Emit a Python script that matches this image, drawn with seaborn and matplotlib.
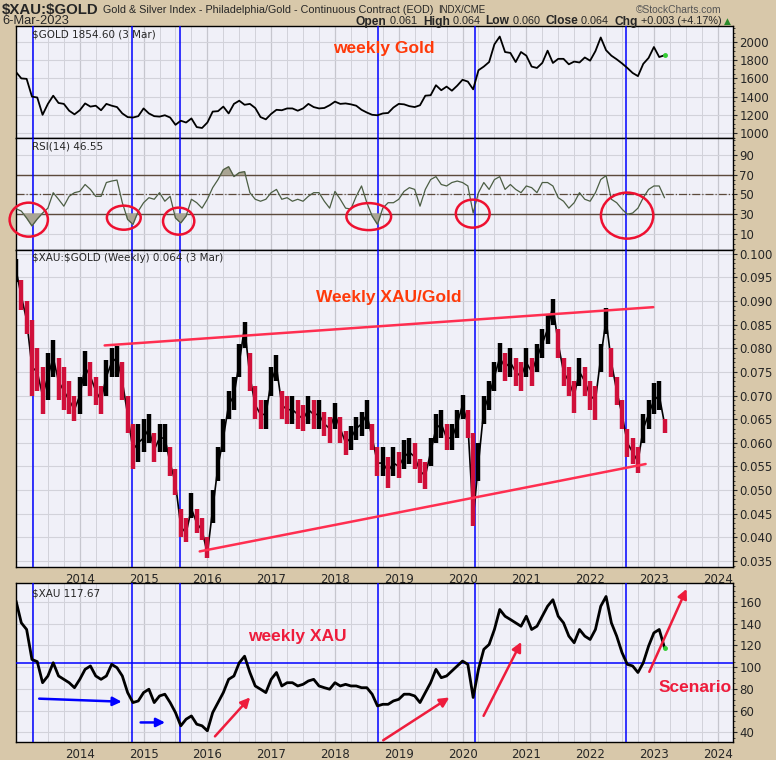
import numpy as np
import pandas as pd
import matplotlib
matplotlib.use("Agg")
import matplotlib.pyplot as plt
import seaborn as sns
from matplotlib.patches import Ellipse
from matplotlib.ticker import MultipleLocator, FixedLocator, FormatStrFormatter

sns.set_style("white")
plt.rcParams['font.family'] = ['DejaVu Sans']

# ---------------- data (monthly readings, Jan 2013 .. Mar 2023) ----------------
months = pd.date_range("2013-01-01", "2023-03-01", freq="MS")

gold = [1670, 1600, 1595, 1400, 1390, 1200, 1320, 1410, 1330, 1320, 1245, 1205,
        1250, 1325, 1290, 1300, 1250, 1320, 1300, 1285, 1215, 1175, 1170, 1185,
        1270, 1215, 1185, 1180, 1195, 1170, 1090, 1135, 1115, 1160, 1065, 1055,
        1115, 1235, 1240, 1290, 1215, 1320, 1355, 1310, 1320, 1275, 1175, 1150,
        1210, 1255, 1250, 1270, 1270, 1245, 1270, 1320, 1285, 1270, 1275, 1305,
        1345, 1320, 1325, 1315, 1300, 1255, 1225, 1200, 1195, 1215, 1220, 1280,
        1320, 1315, 1295, 1285, 1305, 1410, 1415, 1525, 1470, 1510, 1465, 1520,
        1585, 1565, 1480, 1690, 1730, 1780, 1975, 2060, 1890, 1880, 1780, 1890,
        1850, 1730, 1715, 1770, 1905, 1770, 1815, 1815, 1755, 1785, 1775, 1830,
        1795, 1900, 2050, 1910, 1850, 1810, 1765, 1715, 1660, 1625, 1760, 1825,
        1945, 1835, 1854.6]

rsi = [35.4, 33.0, 26.0, 18.0, 25.0, 31.0, 36.0, 51.7, 45.0, 38.0, 48.0, 51.7,
       53.0, 60.0, 55.0, 48.0, 48.0, 62.0, 63.5, 64.5, 41.5, 24.6, 19.5, 33.0,
       41.5, 46.6, 45.0, 51.7, 43.0, 48.0, 26.0, 21.0, 28.0, 45.0, 41.5, 36.0,
       45.0, 56.8, 65.0, 75.0, 78.0, 68.0, 72.0, 73.0, 51.7, 45.0, 43.0, 45.0,
       51.7, 55.0, 45.0, 46.6, 43.0, 45.0, 43.0, 48.0, 51.7, 51.7, 43.0, 36.0,
       53.0, 45.0, 36.0, 35.0, 48.0, 58.5, 41.5, 28.0, 19.5, 36.0, 41.5, 41.5,
       45.0, 53.0, 56.8, 55.0, 38.0, 55.0, 65.0, 68.0, 60.0, 58.5, 62.0, 63.5,
       62.0, 58.5, 31.0, 51.7, 62.0, 55.0, 65.0, 68.0, 55.0, 60.0, 55.0, 51.7,
       58.5, 56.8, 51.7, 62.0, 62.0, 58.5, 46.6, 43.0, 36.0, 41.5, 51.7, 45.0,
       43.0, 51.7, 65.0, 69.0, 45.0, 41.5, 35.0, 29.7, 31.0, 36.0, 46.6, 55.0,
       58.5, 58.5, 46.55]

ratio = [0.0966, 0.0910, 0.0860, 0.0760, 0.0750, 0.0700, 0.0740, 0.0780, 0.0730, 0.0710, 0.0690, 0.0670,
         0.0700, 0.0760, 0.0740, 0.0710, 0.0690, 0.0740, 0.0770, 0.0780, 0.0730, 0.0660, 0.0585, 0.0600,
         0.0610, 0.0630, 0.0585, 0.0610, 0.0610, 0.0557, 0.0514, 0.0422, 0.0409, 0.0460, 0.0430, 0.0415,
         0.0365, 0.0460, 0.0550, 0.0610, 0.0680, 0.0700, 0.0770, 0.0845, 0.0740, 0.0680, 0.0660, 0.0660,
         0.0730, 0.0760, 0.0680, 0.0670, 0.0670, 0.0660, 0.0650, 0.0670, 0.0660, 0.0660, 0.0640, 0.0630,
         0.0660, 0.0630, 0.0600, 0.0610, 0.0630, 0.0640, 0.0660, 0.0610, 0.0557, 0.0557, 0.0540, 0.0557,
         0.0550, 0.0570, 0.0580, 0.0570, 0.0540, 0.0530, 0.0580, 0.0630, 0.0640, 0.0610, 0.0610, 0.0640,
         0.0680, 0.0640, 0.0440, 0.0557, 0.0670, 0.0700, 0.0740, 0.0780, 0.0760, 0.0770, 0.0750, 0.0740,
         0.0770, 0.0750, 0.0780, 0.0810, 0.0840, 0.0890, 0.0810, 0.0750, 0.0730, 0.0700, 0.0750, 0.0730,
         0.0700, 0.0690, 0.0780, 0.0860, 0.0770, 0.0710, 0.0660, 0.0600, 0.0580, 0.0560, 0.0630, 0.0660,
         0.0690, 0.0700, 0.0640]

ratio_lo = [0.0940, 0.0880, 0.0830, 0.0700, 0.0710, 0.0660, 0.0690, 0.0740, 0.0690, 0.0670, 0.0660, 0.0645,
            0.0660, 0.0720, 0.0700, 0.0680, 0.0660, 0.0700, 0.0740, 0.0740, 0.0690, 0.0620, 0.0545, 0.0560,
            0.0580, 0.0600, 0.0560, 0.0580, 0.0580, 0.0530, 0.0490, 0.0400, 0.0390, 0.0440, 0.0410, 0.0395,
            0.0355, 0.0430, 0.0520, 0.0580, 0.0650, 0.0670, 0.0740, 0.0800, 0.0710, 0.0650, 0.0630, 0.0630,
            0.0700, 0.0730, 0.0650, 0.0640, 0.0640, 0.0630, 0.0625, 0.0640, 0.0630, 0.0630, 0.0615, 0.0600,
            0.0630, 0.0600, 0.0575, 0.0585, 0.0605, 0.0615, 0.0630, 0.0585, 0.0530, 0.0530, 0.0505, 0.0530,
            0.0525, 0.0545, 0.0555, 0.0545, 0.0515, 0.0502, 0.0550, 0.0600, 0.0610, 0.0585, 0.0585, 0.0610,
            0.0650, 0.0610, 0.0423, 0.0520, 0.0640, 0.0670, 0.0710, 0.0750, 0.0730, 0.0740, 0.0720, 0.0710,
            0.0740, 0.0720, 0.0750, 0.0780, 0.0810, 0.0850, 0.0780, 0.0720, 0.0700, 0.0662, 0.0720, 0.0700,
            0.0670, 0.0648, 0.0750, 0.0830, 0.0740, 0.0680, 0.0630, 0.0570, 0.0555, 0.0537, 0.0600, 0.0630,
            0.0660, 0.0670, 0.0620]

ratio_hi = [0.0990, 0.0945, 0.0900, 0.0860, 0.0800, 0.0760, 0.0790, 0.0818, 0.0780, 0.0760, 0.0730, 0.0700,
            0.0740, 0.0795, 0.0770, 0.0740, 0.0720, 0.0775, 0.0800, 0.0805, 0.0770, 0.0700, 0.0640, 0.0640,
            0.0650, 0.0660, 0.0620, 0.0640, 0.0640, 0.0590, 0.0545, 0.0460, 0.0440, 0.0493, 0.0460, 0.0440,
            0.0400, 0.0500, 0.0590, 0.0650, 0.0710, 0.0740, 0.0810, 0.0855, 0.0790, 0.0720, 0.0690, 0.0690,
            0.0760, 0.0786, 0.0710, 0.0700, 0.0700, 0.0690, 0.0680, 0.0700, 0.0690, 0.0690, 0.0665, 0.0655,
            0.0685, 0.0655, 0.0625, 0.0635, 0.0655, 0.0665, 0.0690, 0.0640, 0.0590, 0.0590, 0.0570, 0.0590,
            0.0580, 0.0606, 0.0610, 0.0600, 0.0565, 0.0560, 0.0610, 0.0660, 0.0670, 0.0640, 0.0640, 0.0670,
            0.0702, 0.0670, 0.0620, 0.0600, 0.0700, 0.0730, 0.0770, 0.0811, 0.0790, 0.0800, 0.0780, 0.0770,
            0.0800, 0.0780, 0.0810, 0.0840, 0.0870, 0.0905, 0.0840, 0.0780, 0.0760, 0.0730, 0.0780, 0.0760,
            0.0730, 0.0720, 0.0810, 0.0885, 0.0800, 0.0740, 0.0690, 0.0630, 0.0610, 0.0590, 0.0660, 0.0690,
            0.0726, 0.0730, 0.0650]

xau = [161.0, 140.7, 134.6, 107.0, 105.0, 85.6, 91.8, 104.0, 91.8, 88.7, 85.6, 81.0,
       88.7, 97.9, 101.0, 91.8, 88.7, 91.8, 102.5, 99.4, 91.8, 76.5, 67.3, 68.8,
       76.5, 79.6, 67.3, 73.4, 75.0, 67.3, 58.1, 45.9, 52.0, 55.0, 47.4, 45.9,
       41.3, 58.1, 67.3, 76.5, 88.7, 91.8, 104.0, 110.0, 95.0, 82.6, 79.6, 76.5,
       88.7, 95.0, 82.6, 85.6, 85.6, 82.6, 84.1, 87.2, 88.7, 82.6, 81.0, 79.6,
       85.6, 82.6, 84.1, 82.6, 82.6, 81.0, 81.0, 75.0, 64.2, 65.7, 65.7, 68.8,
       70.3, 75.0, 75.0, 73.4, 67.3, 76.5, 85.6, 97.9, 90.2, 91.8, 96.4, 101.0,
       105.5, 102.5, 72.0, 97.9, 116.3, 120.8, 134.6, 153.0, 146.8, 143.8, 140.7, 137.6,
       146.8, 134.6, 137.6, 146.8, 156.0, 162.0, 146.8, 140.7, 128.5, 122.4, 134.6, 128.5,
       125.4, 134.6, 156.0, 165.0, 140.7, 128.5, 113.3, 102.5, 101.0, 95.0, 104.0, 119.3,
       131.5, 134.6, 117.67]

year_ticks = list(range(2014, 2025))
event_lines = [2013.26, 2014.82, 2015.57, 2018.67, 2020.19, 2022.56]
gold_ticks = [1000, 1200, 1400, 1600, 1800, 2000]
rsi_ticks = [10, 30, 50, 70, 90]
ratio_ticks = [0.035, 0.040, 0.045, 0.050, 0.055, 0.060, 0.065, 0.070,
               0.075, 0.080, 0.085, 0.090, 0.095, 0.100]
xau_ticks = [40, 60, 80, 100, 120, 140, 160]

t = np.asarray(months.year + (months.month - 1) / 12.0, dtype=float)

# ---------------- styling ----------------
BG = '#d8c8aa'
PBG = '#f0f0f8'
GRID = '#d2d2da'
BLUE = '#0000ff'
RED_T = '#ff2e50'
ORANGE = '#ff3a0a'
CRIMSON = '#ee1c3c'
W, H = 776, 760

fig = plt.figure(figsize=(W / 100, H / 100), dpi=100, facecolor=BG)


def add_ax(top, bottom):
    return fig.add_axes([16 / W, 1 - bottom / H, (733 - 16) / W, (bottom - top) / H])


ax_g = add_ax(26, 138)
ax_r = add_ax(138, 250)
ax_x = add_ax(250, 567)
ax_a = add_ax(583, 742)

XMIN, XMAX = 2013.0, 2024.24
for ax in (ax_g, ax_r, ax_x, ax_a):
    ax.set_facecolor(PBG)
    ax.set_xlim(XMIN, XMAX)
    ax.xaxis.set_major_locator(FixedLocator(year_ticks))
    ax.xaxis.set_minor_locator(MultipleLocator(0.25))
    ax.grid(which='major', axis='x', color='#c6c6ce', lw=0.9)
    ax.grid(which='minor', axis='x', color=GRID, lw=0.7)
    ax.grid(which='major', axis='y', color=GRID, lw=0.8)
    ax.yaxis.tick_right()
    ax.tick_params(axis='y', which='major', direction='out', length=3, width=0.8,
                   labelsize=8.5, pad=1.5, right=True, left=False)
    ax.tick_params(axis='y', which='minor', direction='out', length=1.5, width=0.6,
                   right=True, left=False)
    ax.tick_params(axis='x', which='both', length=0)
    for s in ax.spines.values():
        s.set_color('black')
        s.set_linewidth(1.0)
    for xv in event_lines:
        ax.axvline(xv, color=BLUE, lw=1.1, zorder=3)
    ax.set_axisbelow(True)

for ax in (ax_g, ax_r):
    ax.tick_params(axis='x', labelbottom=False)
for ax in (ax_x, ax_a):
    ax.set_xticklabels([str(y) for y in year_ticks])
    ax.tick_params(axis='x', which='major', length=3, direction='out', labelsize=8.5, pad=1)

BOLDFAM = ['Liberation Sans', 'DejaVu Sans']

# ---- Gold ----
sns.lineplot(x=t, y=gold, ax=ax_g, color='black', lw=1.3, zorder=4)
ax_g.set_ylim(945, 2176)
ax_g.yaxis.set_major_locator(FixedLocator(gold_ticks))
ax_g.yaxis.set_minor_locator(MultipleLocator(50))
ax_g.plot([t[-1]], [gold[-1]], 'o', color='#33cc33', ms=2.5, zorder=5)
ax_g.text(0.022, 0.965, '$GOLD 1854.60 (3 Mar)', transform=ax_g.transAxes, va='top',
          ha='left', fontsize=7.5, parse_math=False)
fig.text(384 / W, 1 - 49 / H, 'weekly Gold', color=ORANGE, fontsize=12.5,
         fontweight='bold', ha='center', va='center', family=BOLDFAM)

# ---- RSI ----
rsi_arr = np.asarray(rsi)
sns.lineplot(x=t, y=rsi, ax=ax_r, color='#4c5e44', lw=0.9, zorder=4)
ax_r.fill_between(t, 70, rsi_arr, where=rsi_arr > 70, interpolate=True,
                  color='#aaa594', zorder=3)
ax_r.fill_between(t, rsi_arr, 30, where=rsi_arr < 30, interpolate=True,
                  color='#aaa594', zorder=3)
ax_r.axhline(70, color='#5c4a3c', lw=1.0, zorder=2)
ax_r.axhline(30, color='#5c4a3c', lw=1.0, zorder=2)
ax_r.axhline(50, color='#5c4a3c', lw=0.9, ls='-.', zorder=2)
ax_r.set_ylim(-6.5, 107.2)
ax_r.yaxis.set_major_locator(FixedLocator(rsi_ticks))
ax_r.yaxis.set_minor_locator(MultipleLocator(5))
ax_r.text(0.022, 0.965, 'RSI(14) 46.55', transform=ax_r.transAxes, va='top',
          ha='left', fontsize=7.5, parse_math=False)
ellipses = [(2013.2, 24.3, 0.60, 34.5), (2014.69, 26.3, 0.53, 24.4),
            (2015.55, 22.8, 0.49, 27.4), (2018.53, 27.4, 0.70, 27.4),
            (2020.16, 30.4, 0.53, 28.4), (2022.58, 28.4, 0.82, 46.7)]
for cx, cy, ew, eh in ellipses:
    ax_r.add_patch(Ellipse((cx, cy), ew, eh, fill=False, ec='#ee1030', lw=1.8,
                           zorder=6, clip_on=False))

# ---- XAU:GOLD ratio (monthly high-low bars, red when the close fell) ----
r = np.asarray(ratio)
down = np.r_[False, r[1:] < r[:-1]]
bar_colors = np.where(down, '#d0103a', 'black')
sns.lineplot(x=t, y=ratio, ax=ax_x, color='black', lw=1.2, zorder=4)
ax_x.vlines(t, ratio_lo, ratio_hi, colors=bar_colors, lw=3.2, zorder=5)
ax_x.set_ylim(0.0337, 0.1008)
ax_x.yaxis.set_major_locator(FixedLocator(ratio_ticks))
ax_x.yaxis.set_major_formatter(FormatStrFormatter('%.3f'))
ax_x.yaxis.set_minor_locator(MultipleLocator(0.001))
ax_x.plot([2014.39, 2022.99], [0.0806, 0.0887], color=RED_T, lw=1.8, zorder=6)
ax_x.plot([2015.88, 2022.87], [0.0370, 0.0555], color=RED_T, lw=1.8, zorder=6)
ax_x.text(0.022, 0.992, '$XAU:$GOLD (Weekly) 0.064 (3 Mar)', transform=ax_x.transAxes,
          va='top', ha='left', fontsize=7.5, parse_math=False)
fig.text(389 / W, 1 - 297 / H, 'Weekly XAU/Gold', color=ORANGE, fontsize=12.5,
         fontweight='bold', ha='center', va='center', family=BOLDFAM)

# ---- XAU ----
sns.lineplot(x=t, y=xau, ax=ax_a, color='black', lw=2.0, zorder=4)
ax_a.plot([t[-1]], [xau[-1]], 'o', color='#33cc33', ms=2.5, zorder=5)
ax_a.set_ylim(31.0, 177.4)
ax_a.yaxis.set_major_locator(FixedLocator(xau_ticks))
ax_a.yaxis.set_minor_locator(MultipleLocator(5))
ax_a.axhline(104, color=BLUE, lw=1.1, zorder=3)
ax_a.text(0.022, 0.965, '$XAU 117.67', transform=ax_a.transAxes, va='top',
          ha='left', fontsize=7.5, parse_math=False)
blue_arrows = [((2013.32, 71.0), (2014.70, 68.0)), ((2014.91, 49.0), (2015.38, 49.0))]
for (x0, y0), (x1, y1) in blue_arrows:
    ax_a.annotate('', xy=(x1, y1), xytext=(x0, y0),
                  arrowprops=dict(arrowstyle='-|>', color=BLUE, lw=1.8,
                                  mutation_scale=13), zorder=6)
red_arrows = [((2016.09, 34.3), (2016.70, 74.0)), ((2018.72, 31.2), (2019.83, 73.4)),
              ((2020.31, 52.8), (2020.94, 125.4)), ((2022.91, 93.3), (2023.53, 174.3))]
for (x0, y0), (x1, y1) in red_arrows:
    ax_a.annotate('', xy=(x1, y1), xytext=(x0, y0),
                  arrowprops=dict(arrowstyle='-|>', color=CRIMSON, lw=1.8,
                                  mutation_scale=14), zorder=6, annotation_clip=False)
fig.text(297 / W, 1 - 637 / H, 'weekly XAU', color=CRIMSON, fontsize=12.5,
         fontweight='bold', ha='center', va='center', family=BOLDFAM)
fig.text(695 / W, 1 - 688 / H, 'Scenario', color=CRIMSON, fontsize=12.5,
         fontweight='bold', ha='center', va='center', family=BOLDFAM)

for ax in (ax_g, ax_r, ax_x, ax_a):
    ax.set_xlabel('')
    ax.set_ylabel('')
    ax.set_xlim(XMIN, XMAX)

# ---- header (sized to fit the reference widths) ----
fig.canvas.draw()
renderer = fig.canvas.get_renderer()
HFAM = ['Liberation Sans', 'DejaVu Sans']


def fit_text(x0, x1, y, s, size, **kw):
    tt = fig.text(x0 / W, 1 - y / H, s, fontsize=size, ha='left', va='center',
                  parse_math=False, family=HFAM, **kw)
    w = tt.get_window_extent(renderer=renderer).width
    tt.set_fontsize(size * (x1 - x0) / w)
    return tt


fit_text(2, 99, 10, '$XAU:$GOLD', 14, fontweight='bold')
fit_text(103, 433, 10, 'Gold & Silver Index - Philadelphia/Gold - Continuous Contract (EOD)', 9.5)
fit_text(438, 486, 10, 'INDX/CME', 8.5)
fit_text(636, 722, 10, '\u00a9StockCharts.com', 9, color='#555555')
fit_text(2, 68, 21.5, '6-Mar-2023', 8.5)

parts = [('Open', True), (' 0.061  ', False), ('High', True), (' 0.064  ', False),
         ('Low', True), (' 0.060  ', False), ('Close', True), (' 0.064  ', False),
         ('Chg', True), (' +0.003 (+4.17%)', False)]
probe = []
total = 0.0
for txt, bold in parts:
    tt = fig.text(0, 0, txt, fontsize=10 if bold else 9,
                  fontweight='bold' if bold else 'normal', parse_math=False, family=HFAM)
    total += tt.get_window_extent(renderer=renderer).width
    probe.append(tt)
for tt in probe:
    tt.remove()
scale = (723 - 356) / total
xs = 356.0
for txt, bold in parts:
    tt = fig.text(xs / W, 1 - 21.5 / H, txt, fontsize=(10 if bold else 9) * scale,
                  fontweight='bold' if bold else 'normal', va='center', ha='left',
                  parse_math=False, family=HFAM)
    xs += tt.get_window_extent(renderer=renderer).width
fig.text((xs + 2) / W, 1 - 21.5 / H, '\u25b2', fontsize=6.5, color='#2a8a2a',
         va='center', ha='left')

fig.savefig('out.png', dpi=100, facecolor=BG)
